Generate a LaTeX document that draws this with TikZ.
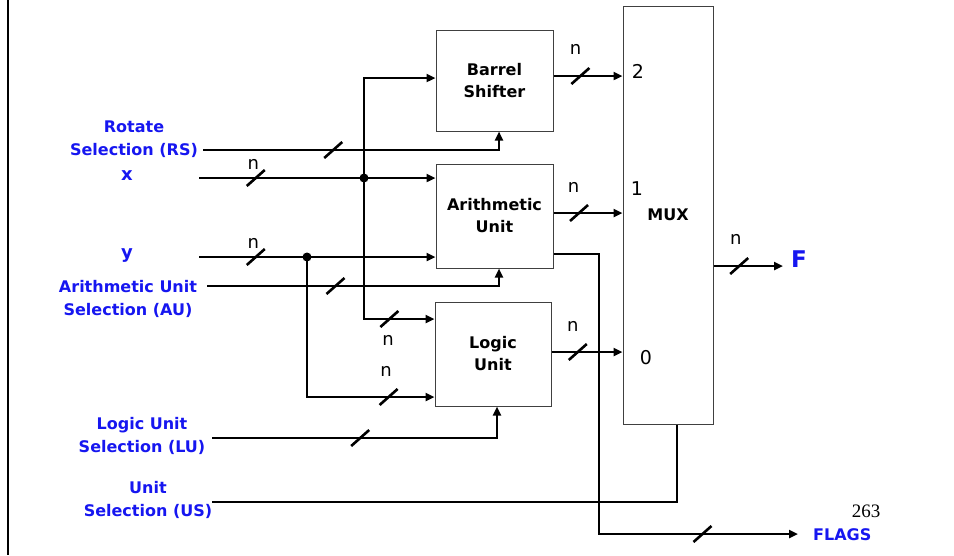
\documentclass[tikz,border=0pt]{standalone}
\usepackage{fontspec}
\setmainfont{DejaVu Sans}
\newfontfamily\pagenumfont{Liberation Serif}
\usetikzlibrary{arrows.meta,positioning,calc}
\definecolor{labelblue}{RGB}{22,22,240}

\begin{document}
\begin{tikzpicture}[x=1pt, y=-1pt, >={Triangle[length=9pt,width=8pt]},
  wire/.style={line width=2.9pt},
  box/.style={draw=black!75, line width=1pt, align=center, font=\fontsize{16}{22}\selectfont\bfseries},
  lbl/.style={text=labelblue, align=center, inner sep=1pt, font=\fontsize{16}{23}\selectfont\bfseries},
  nlbl/.style={inner sep=0pt, font=\fontsize{18}{18}\selectfont},
  digit/.style={inner sep=0pt, font=\fontsize{19}{20}\selectfont},
  slash/.pic={\draw[line width=2.6pt, -] (-9,8) -- (9,-8);}]
\useasboundingbox (0,0) rectangle (954,555);
\draw[line width=2pt] (8,0) -- (8,555);
\node[box, minimum width=117pt, minimum height=101pt] (barrel) at (494.5,80.5) {Barrel\\Shifter};
\node[box, minimum width=117pt, minimum height=104pt] (arith) at (494.5,216) {Arithmetic\\Unit};
\node[box, minimum width=116pt, minimum height=104pt] (logic) at (493,354) {Logic\\Unit};
\node[box, minimum width=90pt, minimum height=418pt] (mux) at (668,215) {MUX};
\node[digit] (in2) at (638,71) {2};
\node[digit] (in1) at (637,189) {1};
\node[digit] (in0) at (646,358) {0};
\node[lbl] (rs) at (134,139) {Rotate\\Selection (RS)};
\node[lbl, font=\fontsize{18}{20}\selectfont\bfseries] (xlab) at (127,176) {x};
\node[lbl, font=\fontsize{18}{20}\selectfont\bfseries] (ylab) at (127,256) {y};
\node[lbl] (au) at (128,299) {Arithmetic Unit\\Selection (AU)};
\node[lbl] (lu) at (142,436) {Logic Unit\\Selection (LU)};
\node[lbl] (us) at (148,500) {Unit\\Selection (US)};
\node[lbl, font=\fontsize{23}{24}\selectfont\bfseries, anchor=west] (fout) at (790,259) {F};
\node[lbl, anchor=west] (flags) at (812,535) {FLAGS};
\node[font=\pagenumfont\fontsize{19}{20}\selectfont] (pnum) at (866,511) {263};
\coordinate (xin) at (199,178);
\coordinate (yin) at (199,257);
\coordinate (rsin) at (203,150);
\coordinate (auin) at (207,286);
\coordinate (luin) at (212,438);
\coordinate (usin) at (212,502);
\coordinate (jx) at (364,178);
\coordinate (jy) at (307,257);
\coordinate (flc) at (599,534);
\coordinate (flend) at (798,534);
\coordinate (fend) at (783,266);
\draw[wire,->] (xin) -- (arith.west |- xin) pic[pos=0.24]{slash} node[nlbl, pos=0.23, above=7pt]{n};
\draw[wire,->] (yin) -- (arith.west |- yin) pic[pos=0.24]{slash} node[nlbl, pos=0.23, above=7pt]{n};
\fill (jx) circle (4.5pt);
\fill (jy) circle (4.5pt);
\draw[wire,->] (jx) |- ([yshift=2.5pt]barrel.west);
\draw[wire,->] (jx) |- ([yshift=35pt]logic.west) pic[pos=0.68]{slash} node[nlbl, pos=0.67, below=15pt]{n};
\draw[wire,->] (jy) |- ([yshift=-43pt]logic.west) pic[pos=0.82]{slash} node[nlbl, pos=0.81, above=19pt]{n};
\draw[wire,->] (rsin) -| ([xshift=4.5pt]barrel.south) pic[pos=0.22]{slash};
\draw[wire,->] (auin) -| ([xshift=4.5pt]arith.south) pic[pos=0.22]{slash};
\draw[wire,->] (luin) -| ([xshift=4pt]logic.south) pic[pos=0.26]{slash};
\draw[wire] (usin) -| ([xshift=9pt]mux.south);
\draw[wire,->] ([yshift=4.5pt]barrel.east) -- ([yshift=4.5pt]barrel.east -| mux.west) pic[pos=0.39]{slash} node[nlbl, pos=0.32, above=20pt]{n};
\draw[wire,->] ([yshift=3pt]arith.east) -- ([yshift=3pt]arith.east -| mux.west) pic[pos=0.37]{slash} node[nlbl, pos=0.29, above=19pt]{n};
\draw[wire,->] ([yshift=2pt]logic.east) -- ([yshift=2pt]logic.east -| mux.west) pic[pos=0.37]{slash} node[nlbl, pos=0.3, above=19pt]{n};
\draw[wire,->] (mux.east |- fend) -- (fend) pic[pos=0.37]{slash} node[nlbl, pos=0.32, above=20pt]{n};
\draw[wire,->] ([yshift=-38pt]arith.east) -| (flc) -- (flend) pic[pos=0.52]{slash};
\end{tikzpicture}
\end{document}
